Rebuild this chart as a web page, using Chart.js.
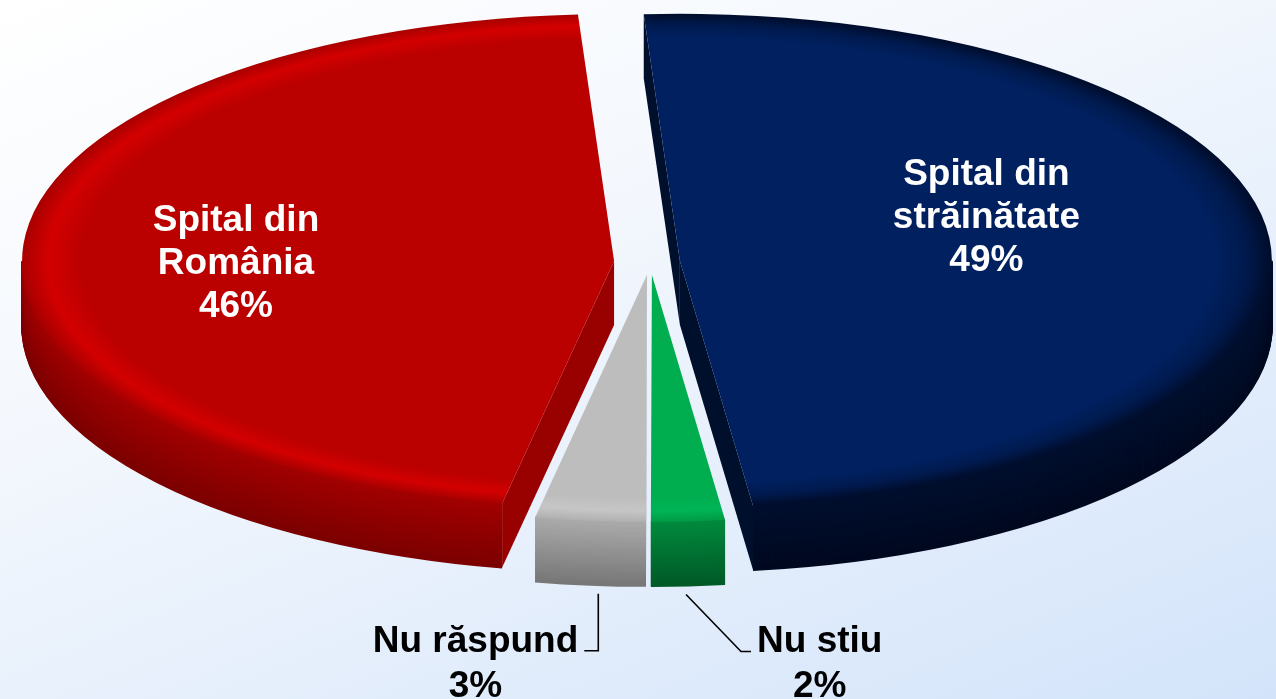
<!DOCTYPE html>
<html>
<head>
<meta charset="utf-8">
<script src="https://cdn.jsdelivr.net/npm/chart.js@4.4.1/dist/chart.umd.min.js"></script>
<style>
html, body { margin: 0; padding: 0; width: 1276px; height: 699px; overflow: hidden; }
body { background: linear-gradient(158deg, #ffffff 0%, #f3f7fd 38%, #d3e4fa 100%); }
#wrap { width: 1276px; height: 699px; }
</style>
</head>
<body>
<div id="wrap"><canvas id="chart" width="1276" height="699"></canvas></div>
<script>
var labels = ["Spital din străinătate", "Nu stiu", "Nu răspund", "Spital din România"];
var labelLines = [["Spital din", "străinătate"], ["Nu stiu"], ["Nu răspund"], ["Spital din", "România"]];
var values = [49, 2, 3, 46];
var valueText = ["49%", "2%", "3%", "46%"];

var topColor   = ["#002060", "#00ad4f", "#bdbdbd", "#bb0000"];
var rimColor   = ["#001a4e", "#00b556", "#c6c6c6", "#d30000"];
var rimEdge    = ["#000c2a", "#009a45", "#b0b0b0", "#a80000"];
var wallTop    = ["#000f2e", "#008a3e", "#ababab", "#a20000"];
var wallBottom = ["#000920", "#005a27", "#777777", "#7c0000"];
var edgeColor  = ["#000f2c", "#006b30", "#999999", "#990000"];

var RX = 592;
var SQUASH = 247 / 592;
var DEPTH = 64;
var explode = [30, 31, 31, 36];

// inside labels: fraction of radius along mid angle + vertical nudge
var inside = { 0: { f: 0.52, dy: -31 }, 3: { f: 0.64, dy: 13 } };
// outside labels: leader line shape
var outside = { 1: { nudge: -2, run: 55, drop: 57, tail: 10 }, 2: { nudge: 8, run: 0, drop: 57, tail: -14 } };

function mix(a, b, t) {
  var pa = parseInt(a.slice(1), 16), pb = parseInt(b.slice(1), 16);
  var r = Math.round(((pa >> 16) & 255) * (1 - t) + ((pb >> 16) & 255) * t);
  var g = Math.round(((pa >> 8) & 255) * (1 - t) + ((pb >> 8) & 255) * t);
  var bl = Math.round((pa & 255) * (1 - t) + (pb & 255) * t);
  return "rgb(" + r + "," + g + "," + bl + ")";
}

function faceFill(c) {
  var chart = c.chart, area = chart.chartArea, i = c.dataIndex;
  if (!area) return topColor[i];
  var x = (area.left + area.right) / 2, y = (area.top + area.bottom) / 2;
  var gr = chart.ctx.createRadialGradient(x, y, 0, x, y, RX);
  gr.addColorStop(0, topColor[i]);
  gr.addColorStop(0.90, topColor[i]);
  gr.addColorStop(0.955, rimColor[i]);
  gr.addColorStop(1, rimEdge[i]);
  return gr;
}

function geom(chart) {
  var arcs = chart.getDatasetMeta(0).data;
  var out = [];
  for (var i = 0; i < arcs.length; i++) {
    var a = arcs[i];
    var mid = (a.startAngle + a.endAngle) / 2;
    out.push({
      arc: a, s: a.startAngle, e: a.endAngle, mid: mid,
      rx: a.outerRadius, ry: a.outerRadius * SQUASH,
      cx: a.x, cy: a.y,
      x: a.x + Math.cos(mid) * explode[i],
      y: a.y + Math.sin(mid) * explode[i] * SQUASH
    });
  }
  return out;
}

function drawWalls(ctx, g, i) {
  // flat cut faces along the radii
  var edges = [[g.s, g.s - Math.PI / 2], [g.e, g.e + Math.PI / 2]];
  for (var k = 0; k < 2; k++) {
    if (Math.sin(edges[k][1]) <= 0.001) continue;
    var px = g.x + g.rx * Math.cos(edges[k][0]);
    var py = g.y + g.ry * Math.sin(edges[k][0]);
    ctx.beginPath();
    ctx.moveTo(g.x, g.y);
    ctx.lineTo(px, py);
    ctx.lineTo(px, py + DEPTH);
    ctx.lineTo(g.x, g.y + DEPTH);
    ctx.closePath();
    ctx.fillStyle = edgeColor[i];
    ctx.fill();
  }
  // curved outer wall, front half only
  var ranges = [[0, Math.PI], [2 * Math.PI, 3 * Math.PI]];
  for (var r = 0; r < ranges.length; r++) {
    var a1 = Math.max(g.s, ranges[r][0]);
    var a2 = Math.min(g.e, ranges[r][1]);
    if (a2 <= a1) continue;
    ctx.lineWidth = 2;
    for (var t = 0; t <= DEPTH; t++) {
      ctx.beginPath();
      ctx.ellipse(g.x, g.y + t, g.rx, g.ry, 0, a1, a2);
      ctx.strokeStyle = mix(wallTop[i], wallBottom[i], t / DEPTH);
      ctx.stroke();
    }
  }
}

var pie3d = {
  id: "pie3d",
  beforeDatasetsDraw: function(chart) {
    var ctx = chart.ctx;
    var gs = geom(chart);
    for (var i = 0; i < gs.length; i++) drawWalls(ctx, gs[i], i);
    for (var j = 0; j < gs.length; j++) {
      var g = gs[j];
      ctx.save();
      ctx.translate(g.x, g.y);
      ctx.scale(1, SQUASH);
      ctx.translate(-g.cx, -g.cy);
      g.arc.draw(ctx);
      ctx.restore();
    }
    return false;
  },
  afterDraw: function(chart) {
    var ctx = chart.ctx;
    var gs = geom(chart);
    ctx.save();
    ctx.font = "bold 37px 'Liberation Sans', Arial, sans-serif";
    for (var i = 0; i < gs.length; i++) {
      var g = gs[i];
      var lines = labelLines[i].concat([valueText[i]]);
      if (inside[i]) {
        var x = g.x + inside[i].f * g.rx * Math.cos(g.mid);
        var y = g.y + inside[i].f * g.ry * Math.sin(g.mid) + inside[i].dy;
        ctx.fillStyle = "#ffffff";
        ctx.textAlign = "center";
        ctx.textBaseline = "middle";
        for (var n = 0; n < lines.length; n++) {
          ctx.fillText(lines[n], x, y + (n - (lines.length - 1) / 2) * 43);
        }
      } else if (outside[i]) {
        var o = outside[i];
        var sx = g.x + g.rx * Math.cos(g.mid) + o.nudge;
        var sy = g.y + g.ry * Math.sin(g.mid) + DEPTH + 9;
        var ex = sx + o.run, ey = sy + o.drop;
        ctx.beginPath();
        ctx.moveTo(sx, sy);
        ctx.lineTo(ex, ey);
        ctx.lineTo(ex + o.tail, ey);
        ctx.strokeStyle = "#000000";
        ctx.lineWidth = 1.6;
        ctx.stroke();
        var w = ctx.measureText(lines[0]).width;
        var left = o.tail < 0 ? ex + o.tail - 6 - w : ex + o.tail + 6;
        ctx.fillStyle = "#000000";
        ctx.textAlign = "center";
        ctx.textBaseline = "alphabetic";
        for (var m = 0; m < lines.length; m++) {
          ctx.fillText(lines[m], left + w / 2, ey + 1 + m * 45);
        }
      }
    }
    ctx.restore();
  }
};

new Chart(document.getElementById("chart"), {
  type: "pie",
  data: {
    labels: labels,
    datasets: [{
      data: values,
      backgroundColor: faceFill,
      borderWidth: 0,
      clip: false
    }]
  },
  options: {
    responsive: false,
    maintainAspectRatio: false,
    animation: false,
    events: [],
    rotation: -3.5,
    radius: RX,
    layout: { padding: { left: 24, top: 0, right: 0, bottom: 175 } },
    plugins: {
      legend: { display: false },
      tooltip: { enabled: false }
    }
  },
  plugins: [pie3d]
});
</script>
</body>
</html>
